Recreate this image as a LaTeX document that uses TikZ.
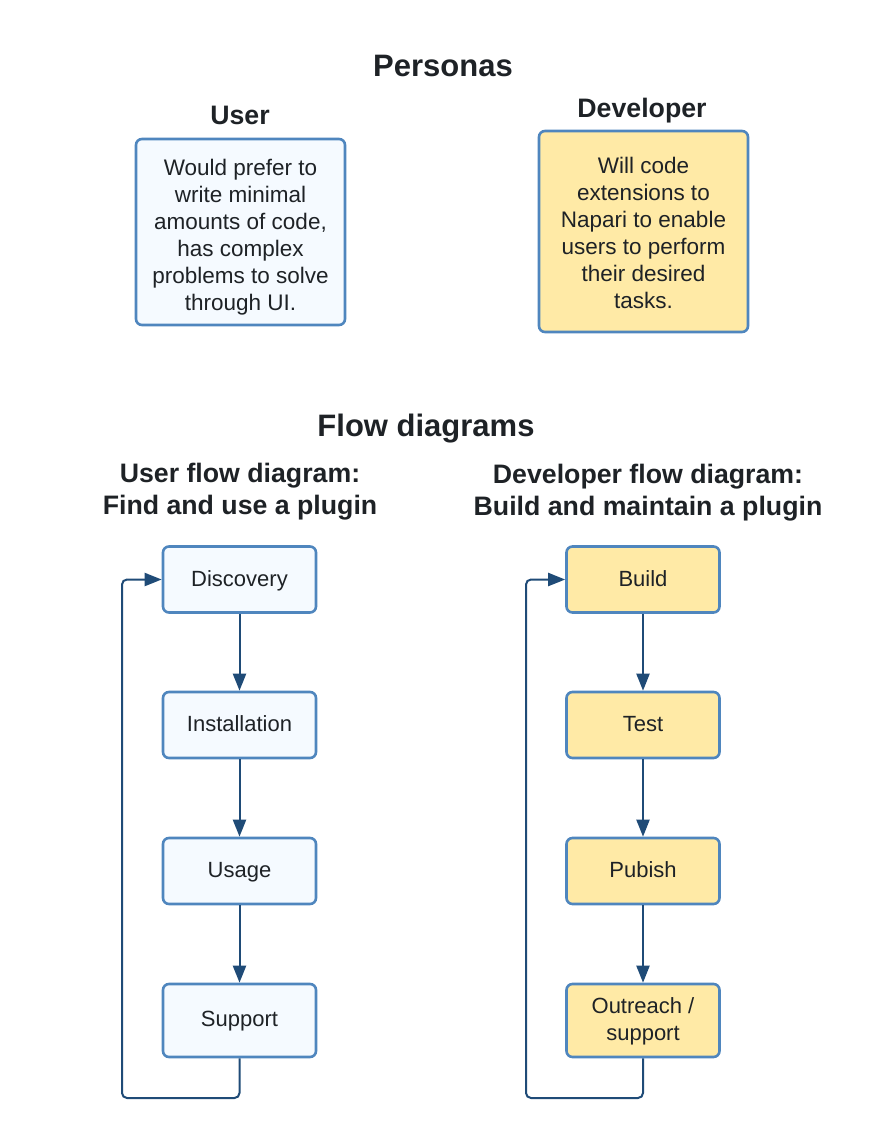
\documentclass[tikz,border=0pt]{standalone}
\usepackage{fontspec}
\setmainfont{Liberation Sans}
\usetikzlibrary{positioning}
\usetikzlibrary{arrows.meta}
\usepackage{xcolor}
\definecolor{boxline}{HTML}{4F86BE}
\definecolor{userfill}{HTML}{F5FAFF}
\definecolor{devfill}{HTML}{FFEAA6}
\definecolor{flowline}{HTML}{1F4B77}
\definecolor{inktext}{HTML}{1E2226}

\tikzset{
  persona/.style={draw=boxline, line width=2.6pt, rounded corners=6pt, align=center,
    minimum width=209pt, text=inktext, font=\fontsize{22.5}{27}\selectfont},
  stage/.style={draw=boxline, line width=2.6pt, rounded corners=6pt, align=center,
    minimum width=153pt, minimum height=66pt, text depth=0.25em, text=inktext,
    font=\fontsize{22}{27}\selectfont},
  heading/.style={text=inktext, font=\bfseries\fontsize{31}{36}\selectfont},
  subheading/.style={text=inktext, align=center, font=\bfseries\fontsize{26.7}{32}\selectfont},
  flow/.style={draw=flowline, line width=2pt, rounded corners=5pt, -{Triangle[length=17pt,width=13pt]}}
}

\begin{document}
\begin{tikzpicture}[x=1pt,y=-1pt]
\useasboundingbox (0,0) rectangle (889,1140);
% personas
\node[heading] (personas) at (443,66) {Personas};
\node[subheading] (usertitle) at (240,115) {User};
\node[subheading] (devtitle) at (642,111) {Developer};
\node[persona, fill=userfill, minimum height=186pt] (userbox) at (240.5,232)
  {\rule{0pt}{27pt}Would prefer to\\ write minimal\\ amounts of code,\\ has complex\\ problems to solve\\ through UI.};
\node[persona, fill=devfill, minimum height=201pt] (devbox) at (643.5,231.5)
  {\rule{0pt}{19pt}Will code\\ extensions to\\ Napari to enable\\ users to perform\\ their desired\\ tasks.};
% flow diagrams
\node[heading] (flowtitle) at (426,429) {Flow diagrams};
\node[subheading] (userflow) at (240,492) {User flow diagram:\\ Find and use a plugin};
\node[subheading] (devflow) at (648,493) {Developer flow diagram:\\ Build and maintain a plugin};
% user flow
\node[stage, fill=userfill] (discovery) at (239.5,579.5) {Discovery};
\node[stage, fill=userfill] (installation) at (239.5,725) {Installation};
\node[stage, fill=userfill] (usage) at (239.5,871) {Usage};
\node[stage, fill=userfill, minimum height=73pt] (support) at (239.5,1020.5) {Support};
\coordinate (userloop) at (122,1098);
\draw[flow] (discovery) -- (installation);
\draw[flow] (installation) -- (usage);
\draw[flow] (usage) -- (support);
\draw[flow] (support.south) |- (userloop) |- (discovery.west);
% developer flow
\node[stage, fill=devfill] (build) at (643,579.5) {Build};
\node[stage, fill=devfill] (test) at (643,725) {Test};
\node[stage, fill=devfill] (publish) at (643,871) {Pubish};
\node[stage, fill=devfill, minimum height=73pt] (outreach) at (643,1020.5) {Outreach /\\ support};
\coordinate (devloop) at (526,1098);
\draw[flow] (build) -- (test);
\draw[flow] (test) -- (publish);
\draw[flow] (publish) -- (outreach);
\draw[flow] (outreach.south) |- (devloop) |- (build.west);
\end{tikzpicture}
\end{document}
